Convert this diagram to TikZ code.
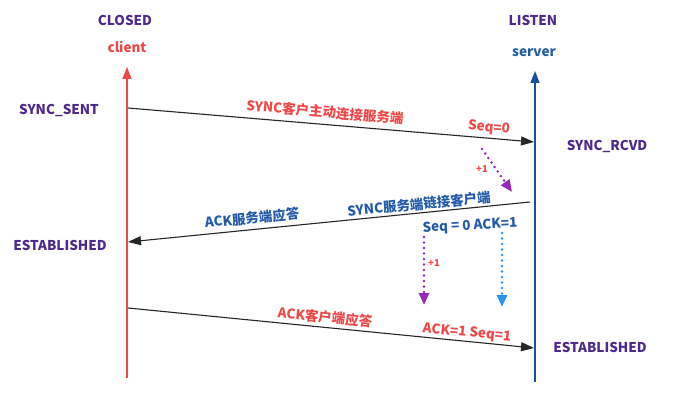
\documentclass[tikz,border=0pt]{standalone}
\usepackage{fontspec}
\setmainfont{Noto Sans CJK SC}
\usetikzlibrary{arrows.meta}
\definecolor{state}{RGB}{78,40,140}
\definecolor{cred}{RGB}{240,72,72}
\definecolor{cblue}{RGB}{35,90,170}
\definecolor{sline}{RGB}{25,80,160}
\definecolor{dpurple}{RGB}{150,40,190}
\definecolor{dblue}{RGB}{40,150,240}
\tikzset{
  lbl/.style={font=\bfseries\fontsize{13.5}{15}\selectfont, inner sep=0pt},
  small/.style={font=\bfseries\fontsize{9.5}{11}\selectfont, inner sep=0pt, text=cred},
  msg/.style={draw=black!85, line width=1.1pt, -{Triangle[length=13pt,width=9pt]}},
  dot/.style={line width=2.8pt, line cap=round, dash pattern=on 0pt off 5.5pt, -{Triangle[length=12pt,width=10pt,line cap=butt]}}
}
\begin{document}
\begin{tikzpicture}[x=1pt,y=-1pt]
	\useasboundingbox (0,0) rectangle (684,401);
	% the two ends
	\node[lbl,text=state] (closed) at (125,20) {CLOSED};
	\node[lbl,text=cred] (client) at (127,47) {client};
	\node[lbl,text=state] (listen) at (533,20) {LISTEN};
	\node[lbl,text=cblue] (server) at (534,53) {server};
	\coordinate (c0) at (127,378);
	\coordinate (c1) at (127,67);
	\coordinate (s0) at (535,382);
	\coordinate (s1) at (535,71);
	\draw[cred,line width=1.4pt,-{Triangle[length=12pt,width=9pt]}] (c0) -- (c1);
	\draw[sline,line width=1.4pt,-{Triangle[length=12pt,width=9pt]}] (s0) -- (s1);
	% states
	\node[lbl,text=state] (sent) at (59,110) {SYNC\_SENT};
	\node[lbl,text=state] (rcvd) at (607,146) {SYNC\_RCVD};
	\node[lbl,text=state] (estl) at (60,245) {ESTABLISHED};
	\node[lbl,text=state] (estr) at (600,347) {ESTABLISHED};
	% messages
	\coordinate (m1a) at (128,108);
	\coordinate (m1b) at (534,142);
	\coordinate (m2a) at (530,202);
	\coordinate (m2b) at (128,242);
	\coordinate (m3a) at (128,308);
	\coordinate (m3b) at (534,348);
	\draw[msg] (m1a) -- (m1b);
	\draw[msg] (m2a) -- (m2b);
	\draw[msg] (m3a) -- (m3b);
	\node[lbl,text=cred,rotate=-4.8] (syn) at (325,112) {SYNC客户主动连接服务端};
	\node[lbl,text=cred,rotate=-4.8] (seq0) at (489,128) {Seq=0};
	\node[lbl,text=cblue,rotate=5.6] (ack1) at (252,218) {ACK服务端应答};
	\node[lbl,text=cblue,rotate=5.6] (syn2) at (419,204) {SYNC服务端链接客户端};
	\node[lbl,text=cblue,rotate=3] (seqack) at (470,226) {Seq = 0 ACK=1};
	\node[lbl,text=cred,rotate=-5.6] (ack2) at (325,317) {ACK客户端应答};
	\node[lbl,text=cred,rotate=-5.6] (ackseq) at (467,333) {ACK=1 Seq=1};
	% +1 hints
	\coordinate (d1a) at (482,149);
	\coordinate (d1b) at (512,192);
	\coordinate (d2a) at (424,237);
	\coordinate (d2b) at (424,305);
	\coordinate (d3a) at (502,233);
	\coordinate (d3b) at (502,307);
	\draw[dot,dpurple] (d1a) -- (d1b);
	\draw[dot,dpurple] (d2a) -- (d2b);
	\draw[dot,dblue] (d3a) -- (d3b);
	\node[small] (p1) at (482,169) {+1};
	\node[small] (p2) at (434,263) {+1};
\end{tikzpicture}
\end{document}
